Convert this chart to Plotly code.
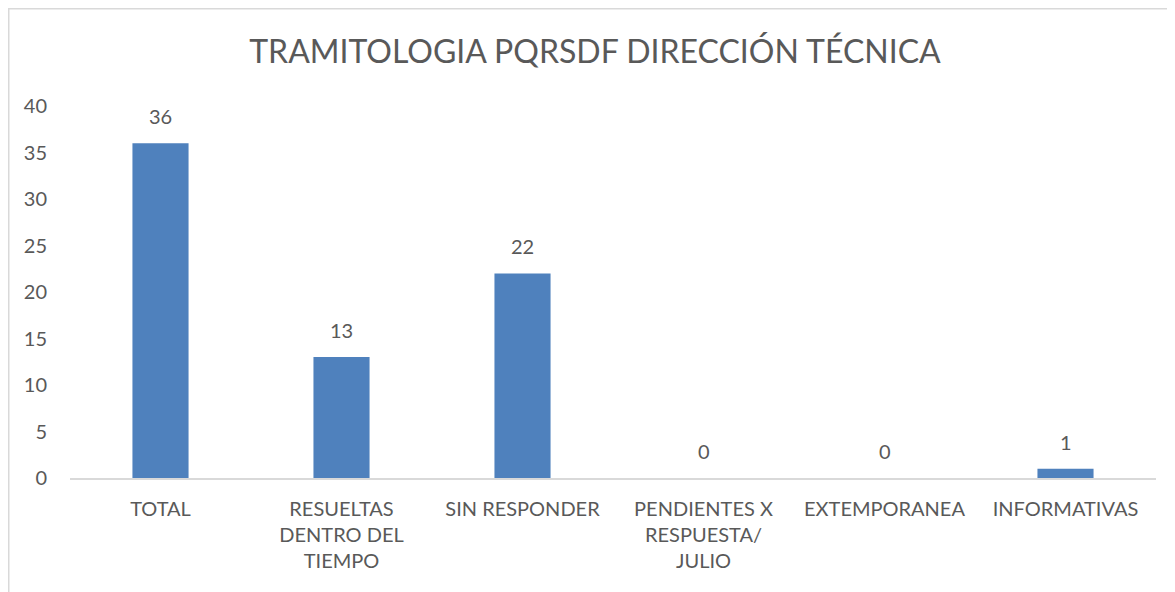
import plotly.graph_objects as go

categories = ["TOTAL", "RESUELTAS<br>DENTRO DEL<br>TIEMPO", "SIN RESPONDER",
              "PENDIENTES X<br>RESPUESTA/<br>JULIO", "EXTEMPORANEA", "INFORMATIVAS"]
values = [36, 13, 22, 0, 0, 1]
y_ticks = [0, 5, 10, 15, 20, 25, 30, 35, 40]
title = "TRAMITOLOGIA PQRSDF DIRECCIÓN TÉCNICA"

FONT = "Lato"
GREY = "#595959"

W, H = 1167, 584
ML, MT, MB, MR = 62, 98, 114, 19
plot_w = W - ML - MR
plot_h = H - MT - MB

fig = go.Figure(go.Bar(x=categories, y=values, marker_color="#4f81bd",
                       marker_line_width=0, hoverinfo="x+y"))

for c, v in zip(categories, values):
    fig.add_annotation(x=c, y=v, text=str(v), showarrow=False, yanchor="bottom",
                       yshift=13, font=dict(family=FONT, size=20, color=GREY))

fig.add_shape(type="rect", xref="paper", yref="paper",
              x0=(0.75 - ML) / plot_w, x1=1.2,
              y0=-0.6, y1=(plot_h + MT - 0.75) / plot_h,
              line=dict(color="#d9d9d9", width=1.5),
              fillcolor="rgba(0,0,0,0)", layer="below")

fig.update_layout(
    width=W, height=H,
    margin=dict(l=ML, r=MR, t=MT, b=MB),
    paper_bgcolor="white", plot_bgcolor="white",
    bargap=0.69,
    showlegend=False,
    title=dict(text=title, x=0.503, xanchor="center", y=1 - 44 / H, yanchor="middle",
               yref="container", font=dict(family=FONT, size=32, color=GREY)),
    xaxis=dict(showline=True, linecolor="#d9d9d9", linewidth=1.5, ticks="",
               tickfont=dict(family=FONT, size=20, color=GREY), showgrid=False,
               ticklabelstandoff=12),
    yaxis=dict(range=[0, 40], tickvals=y_ticks, showgrid=False, zeroline=False,
               showline=False, ticks="", tickfont=dict(family=FONT, size=20, color=GREY),
               ticklabelstandoff=22),
)

fig.write_html("out.html")
